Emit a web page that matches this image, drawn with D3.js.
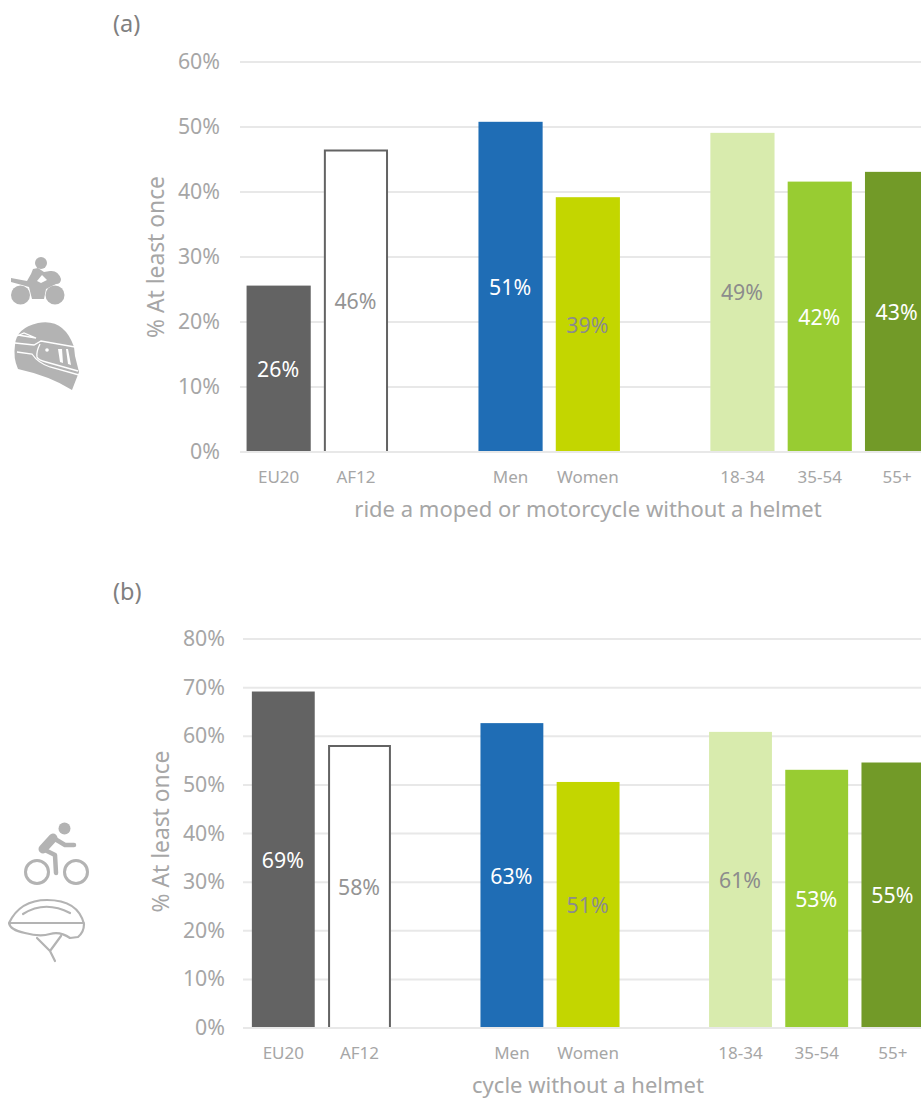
<!DOCTYPE html>
<html><head><meta charset="utf-8">
<script src="https://cdnjs.cloudflare.com/ajax/libs/d3/7.8.5/d3.min.js"></script>
<style>html,body{margin:0;padding:0;background:#fff;overflow:hidden}svg{display:block}text{font-family:"Noto Sans",sans-serif}</style>
</head><body><svg id="c" width="921" height="1100"></svg>
<script>
const slots = ["EU20","AF12","_a","Men","Women","_b","18-34","35-54","55+"];
const categories = ["EU20","AF12","Men","Women","18-34","35-54","55+"];
const helmetMoto = [25.6,46.4,50.8,39.2,49.1,41.6,43.1];
const helmetCycle = [69.2,58.0,62.7,50.6,60.9,53.1,54.6];
const barColors = ["#636363","#ffffff","#1f6db5","#c3d600","#d8ebad","#98cc32","#729a28"];
const labelColors = ["#fff","#949494","#fff","#8c8c8c","#8c8c8c","#fff","#fff"];
const ticksA = [0,10,20,30,40,50,60];
const ticksB = [0,10,20,30,40,50,60,70,80];

const svg = d3.select("#c");
const FS = 21.3;
function panel(o){
  const g = svg.append("g");
  const y = d3.scaleLinear().domain([0,o.max]).range([o.y0,o.yTop]);
  const x = d3.scaleBand().domain(slots).range([o.x0,o.x0+9*o.step]).paddingInner(o.pad).paddingOuter(o.pad/2);
  g.append("g").selectAll("line").data(o.ticks).join("line")
    .attr("x1",o.gridX).attr("x2",921).attr("y1",d=>y(d)).attr("y2",d=>y(d))
    .attr("stroke","#e8e8e8").attr("stroke-width",2);
  g.append("g").selectAll("text").data(o.ticks).join("text")
    .attr("x",o.tickX).attr("y",d=>y(d)+7).attr("text-anchor","end")
    .attr("fill","#a6a6a6").attr("font-size",FS)
    .text(d=>d+"%");
  const rows = categories.map((c,i)=>({c,v:o.values[i],fill:barColors[i],lab:labelColors[i]}));
  g.append("g").selectAll("rect").data(rows).join("rect")
    .attr("x",d=>x(d.c)).attr("y",d=>y(d.v))
    .attr("width",d=>x.bandwidth())
    .attr("height",d=>o.y0-1-y(d.v))
    .attr("fill",d=>d.fill);
  // the outlined group has no line along the baseline
  g.append("g").selectAll("path").data(rows.filter(d=>d.c==="AF12")).join("path")
    .attr("fill","none").attr("stroke","#636363").attr("stroke-width",2)
    .attr("d",d=>d3.line()([[x(d.c)+1,o.y0-1],[x(d.c)+1,y(d.v)],[x(d.c)+x.bandwidth()-1,y(d.v)],[x(d.c)+x.bandwidth()-1,o.y0-1]]));
  g.append("g").selectAll("text").data(rows).join("text")
    .attr("x",d=>x(d.c)+x.bandwidth()/2-0.5).attr("y",d=>(y(d.v)+o.y0)/2+8)
    .attr("text-anchor","middle").attr("fill",d=>d.lab).attr("font-size",FS)
    .text(d=>d3.format(".0f")(d.v)+"%");
  g.append("g").selectAll("text").data(rows).join("text")
    .attr("x",d=>x(d.c)+x.bandwidth()/2).attr("y",o.y0+31)
    .attr("text-anchor","middle").attr("fill","#a6a6a6").attr("font-size",17)
    .text(d=>d.c);
  g.append("text").attr("x",o.titleX).attr("y",o.y0+65).attr("text-anchor","middle")
    .attr("fill","#a6a6a6").attr("font-size",22).text(o.title);
  g.append("text").attr("transform",`translate(${o.axX},${(o.y0+o.yTop)/2+o.axDy}) rotate(-90)`)
    .attr("text-anchor","middle").attr("fill","#a6a6a6").attr("font-size",22.8).text("% At least once");
  g.append("text").attr("x",113).attr("y",o.tagY).attr("fill","#808080").attr("font-size",23.5).text(o.tag);
}
panel({values:helmetMoto,max:60,y0:452,yTop:62,x0:240,step:77.3,pad:0.17,gridX:240,tickX:220,ticks:ticksA,
  title:"ride a moped or motorcycle without a helmet",titleX:588,axX:164,axDy:0,tag:"(a)",tagY:32,});
panel({values:helmetCycle,max:80,y0:1028,yTop:639,x0:245.2,step:76.2,pad:0.175,gridX:243,tickX:225,ticks:ticksB,
  title:"cycle without a helmet",titleX:588,axX:169,axDy:-2,tag:"(b)",tagY:600});

const ic = "#b3b3b3";
// motorcycle
const m = svg.append("g").attr("fill",ic);
m.append("circle").attr("cx",20.5).attr("cy",295).attr("r",9.5);
m.append("circle").attr("cx",55).attr("cy",295).attr("r",9.5);
m.append("circle").attr("cx",41).attr("cy",263).attr("r",6);
m.append("path").attr("d","M11 278 L27 281 L31 274 L33 269 L38 268 L44 272 L50 271 Q58 270 61 279 Q61 284 56 284 L46 289 L44 299 L32 299 L29 287 L22 285 L11 282 Z");
m.append("path").attr("d","M37 281 L42 275 L47 280 L41 283 Z").attr("fill","#fff");
// motorcycle helmet
const h = svg.append("g");
h.append("path").attr("fill",ic).attr("d","M15 345 Q16 328 38 323 Q64 318 74 347 L75 356 L79 372 L72 390 Q50 376 18 369 Q13 358 15 345 Z");
h.append("path").attr("fill","none").attr("stroke","#fff").attr("stroke-width",1.3).attr("d","M15 343 L34 345 L41 341 L75 347 M40 344 Q36 352 37 357 Q38 360 46 362 L78 371 M17 336 L24 333 L36 338 L18 335 M17 352 L32 354 Q38 363 50 367 L79 375");
h.append("path").attr("fill","#fff").attr("d","M58 349 L62 349 L63 363 L60 362 Z M66 349 L68 349 L71 365 L68 364 Z");
h.append("circle").attr("cx",47).attr("cy",350).attr("r",1.8).attr("fill","#fff");
// cyclist
const b = svg.append("g");
b.append("circle").attr("cx",64.5).attr("cy",828.5).attr("r",6).attr("fill",ic);
b.selectAll(".w").data([[37,872],[76,872]]).join("circle").attr("cx",d=>d[0]).attr("cy",d=>d[1]).attr("r",11.5).attr("fill","none").attr("stroke",ic).attr("stroke-width",3);
b.append("path").attr("fill","none").attr("stroke",ic).attr("stroke-width",4.5).attr("stroke-linecap","round").attr("stroke-linejoin","round").attr("d","M55 839 L65 845 L74 845 M43 849 L55 855 L56 873");
b.append("path").attr("fill","none").attr("stroke",ic).attr("stroke-width",9).attr("stroke-linecap","round").attr("d","M53 838 L43 849");
// bike helmet
const bh = svg.append("g").attr("fill","none").attr("stroke",ic).attr("stroke-width",2.2).attr("stroke-linecap","round").attr("stroke-linejoin","round");
bh.append("path").attr("d","M9 923 Q20 900 47 900 Q78 900 84 924 Q84 932 78 937 L70 938 Q60 931 50 934 Q40 937 25 933 Q10 930 9 923 Z M9 923 L84 923 M23 914 Q45 900 70 913 M37 938 L50 951 L61 936 M50 951 L55 961");
</script></body></html>
